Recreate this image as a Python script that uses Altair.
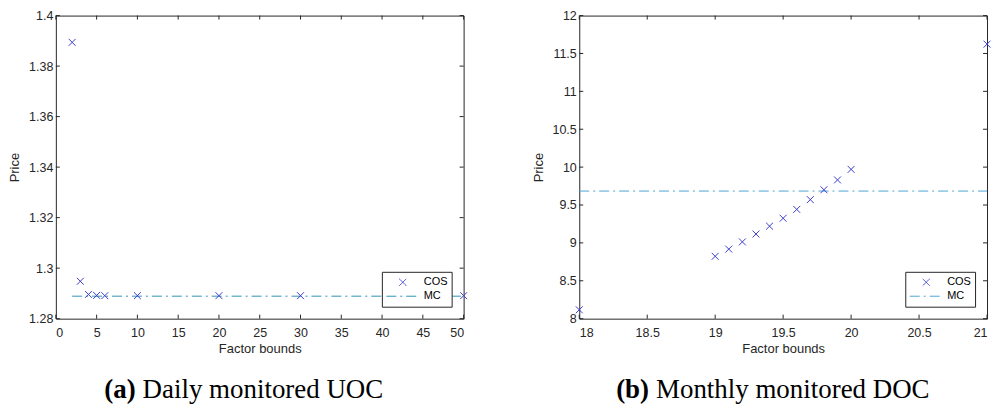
import altair as alt
import pandas as pd

# ---------------- data ----------------
# Panel (a): Daily monitored UOC
a_x = [2, 3, 4, 5, 6, 10, 20, 30, 50]
a_cos = [1.3894, 1.2948, 1.2896, 1.2892, 1.2891, 1.2891, 1.2891, 1.2891, 1.2891]
a_mc_x = [2, 50]
a_mc = [1.2889, 1.2889]
a_xticks = [0, 5, 10, 15, 20, 25, 30, 35, 40, 45, 50]
a_yticks = [1.28, 1.30, 1.32, 1.34, 1.36, 1.38, 1.40]

# Panel (b): Monthly monitored DOC
b_x = [18, 19, 19.1, 19.2, 19.3, 19.4, 19.5, 19.6, 19.7, 19.8, 19.9, 20, 21]
b_cos = [8.117, 8.823, 8.918, 9.013, 9.117, 9.221, 9.325, 9.442, 9.571, 9.701, 9.831, 9.970, 11.623]
b_mc_x = [18, 21]
b_mc = [9.684, 9.684]
b_xticks = [18, 18.5, 19, 19.5, 20, 20.5, 21]
b_yticks = [8, 8.5, 9, 9.5, 10, 10.5, 11, 11.5, 12]

series = ["COS", "MC"]

# ---------------- style ----------------
W, H = 409, 304
AX = "#262626"
BLUE = "#3d3dcc"
XPATH = "M-0.21,-0.21L0.21,0.21M-0.21,0.21L0.21,-0.21"
SANS = "Liberation Sans"
SERIF = "Liberation Serif"


def panel(px, py, mcx, mcy, xdom, ydom, xticks, yticks, xfmt, yfmt, mc_color, tag, caption, tag_x, cap_x):
    pts = pd.DataFrame({"x": px, "y": py, "series": ["COS"] * len(px)})
    mc = pd.DataFrame({"x": mcx, "y": mcy, "series": ["MC"] * len(mcx)})
    xt = pd.DataFrame({"x": xticks})
    yt = pd.DataFrame({"y": yticks})

    xscale = alt.Scale(domain=xdom, nice=False, zero=False)
    yscale = alt.Scale(domain=ydom, nice=False, zero=False)
    xaxis = alt.Axis(values=xticks, format=xfmt, ticks=False, grid=False, domain=False,
                     labelPadding=8, title="Factor bounds", titlePadding=3)
    yaxis = alt.Axis(values=yticks, format=yfmt, ticks=False, grid=False, domain=False,
                     labelPadding=3, title="Price", titlePadding=7)
    X = alt.X("x:Q", scale=xscale, axis=xaxis)
    Y = alt.Y("y:Q", scale=yscale, axis=yaxis)

    leg = alt.Legend(title=None, orient="bottom-right", offset=12)
    color = alt.Color("series:N", scale=alt.Scale(domain=series, range=[BLUE, mc_color]), legend=leg)
    shape = alt.Shape("series:N", scale=alt.Scale(domain=series, range=[XPATH, "stroke"]), legend=leg)
    dash = alt.StrokeDash("series:N", scale=alt.Scale(domain=series, range=[[1, 0], [10, 4, 2, 4]]), legend=leg)

    points = alt.Chart(pts).mark_point(filled=False, size=1089, strokeWidth=1, opacity=1).encode(
        x=X, y=Y, color=color, shape=shape)
    line = alt.Chart(mc).mark_line(strokeWidth=1, color=mc_color, stroke=mc_color).encode(
        x=X, y=Y, strokeDash=dash)

    tb = alt.Chart(xt).mark_rule(color=AX, strokeWidth=1).encode(x=X, y=alt.value(H), y2=alt.value(H - 4))
    tt = alt.Chart(xt).mark_rule(color=AX, strokeWidth=1).encode(x=X, y=alt.value(0), y2=alt.value(4))
    tl = alt.Chart(yt).mark_rule(color=AX, strokeWidth=1).encode(y=Y, x=alt.value(0), x2=alt.value(4))
    tr = alt.Chart(yt).mark_rule(color=AX, strokeWidth=1).encode(y=Y, x=alt.value(W), x2=alt.value(W - 4))

    capdf = pd.DataFrame({"tag": [tag], "cap": [caption]})
    t1 = alt.Chart(capdf).mark_text(font=SERIF, fontSize=27, fontWeight="bold", align="right",
                                    baseline="alphabetic", color="#000000").encode(
        text="tag:N", x=alt.value(tag_x), y=alt.value(H + 80))
    t2 = alt.Chart(capdf).mark_text(font=SERIF, fontSize=27, align="left",
                                    baseline="alphabetic", color="#000000").encode(
        text="cap:N", x=alt.value(cap_x), y=alt.value(H + 80))

    return alt.layer(line, points, tb, tt, tl, tr, t1, t2).properties(width=W, height=H)


left = panel(a_x, a_cos, a_mc_x, a_mc, [0, 50], [1.28, 1.40], a_xticks, a_yticks, "d", ".2~f",
             "#2f93b5", "(a)", "Daily monitored UOC", 80, 87)
right = panel(b_x, b_cos, b_mc_x, b_mc, [18, 21], [8, 12], b_xticks, b_yticks, ".1~f", ".1~f",
              "#4ea6d6", "(b)", "Monthly monitored DOC", 70, 77)

chart = alt.hconcat(left, right, spacing=116, bounds="flush").resolve_scale(
    color="independent", shape="independent", strokeDash="independent"
).resolve_legend(
    color="independent", shape="independent", strokeDash="independent"
).properties(
    padding={"left": 0, "top": 0, "right": 0, "bottom": 0}
).configure_view(
    stroke=AX, strokeWidth=1
).configure_axis(
    labelFont=SANS, labelFontSize=12.5, labelColor=AX,
    titleFont=SANS, titleFontSize=13, titleFontWeight="normal", titleColor=AX
).configure_legend(
    padding=4, strokeColor=AX, fillColor="white", labelFont=SANS, labelFontSize=11,
    labelColor="#000000", symbolSize=1089, symbolStrokeWidth=1, clipHeight=13,
    rowPadding=1, labelOffset=4, cornerRadius=0
)

chart.save("out.html", embed_options={"renderer": "svg", "actions": False})
